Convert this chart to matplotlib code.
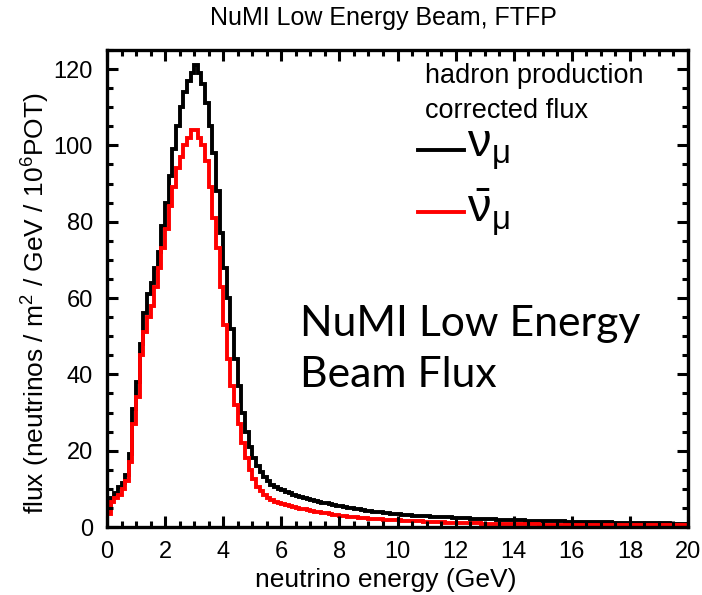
import numpy as np
import matplotlib
matplotlib.use("Agg")
import matplotlib.pyplot as plt
from matplotlib.ticker import MultipleLocator

plt.rcParams['font.family'] = ['Liberation Sans', 'DejaVu Sans']
plt.rcParams['mathtext.default'] = 'regular'

# 0.125 GeV bins, 0-20 GeV (one row = 1 GeV)
edges = np.linspace(0, 20, 161)

numu = [
    5.5, 7.5, 9.0, 10.5, 11.5, 13.5, 19.0, 31.0,
    38, 48, 56, 61, 64, 68, 72, 79,
    85, 92, 99, 105, 110, 114, 117, 119,
    121, 119, 116, 111, 105, 98, 88, 77,
    68, 60, 52, 44, 37, 30, 25, 21,
    18, 16, 14.5, 13, 12, 11, 10.5, 10,
    9.6, 9.2, 8.8, 8.5, 8.2, 7.9, 7.6, 7.3,
    7.0, 6.8, 6.6, 6.4, 6.2, 6.0, 5.8, 5.6,
    5.4, 5.2, 5.05, 4.9, 4.75, 4.6, 4.45, 4.3,
    4.15, 4.0, 3.9, 3.8, 3.7, 3.6, 3.5, 3.4,
    3.3, 3.2, 3.15, 3.1, 3.0, 2.95, 2.9, 2.85,
    2.8, 2.75, 2.7, 2.65, 2.6, 2.55, 2.5, 2.45,
    2.4, 2.35, 2.3, 2.25, 2.2, 2.2, 2.15, 2.1,
    2.05, 2.0, 2.0, 1.95, 1.9, 1.9, 1.85, 1.8,
    1.8, 1.75, 1.75, 1.7, 1.7, 1.65, 1.6, 1.6,
    1.55, 1.55, 1.5, 1.5, 1.45, 1.45, 1.4, 1.4,
    1.4, 1.35, 1.35, 1.3, 1.3, 1.3, 1.25, 1.25,
    1.2, 1.2, 1.2, 1.15, 1.15, 1.15, 1.1, 1.1,
    1.1, 1.05, 1.05, 1.05, 1.0, 1.0, 1.0, 1.0,
    0.95, 0.95, 0.95, 0.9, 0.9, 0.9, 0.9, 0.85,
]

numubar = [
    3.5, 6.5, 7.5, 8.5, 10, 12, 17, 27,
    34, 45, 51, 55, 58, 63, 68, 73,
    78, 84, 89, 94, 97, 100, 102, 104,
    104, 102, 100, 96, 89, 81, 73, 63,
    53, 44, 37, 32, 27, 22, 18, 15,
    12.5, 10.5, 9.5, 8.5, 7.6, 7.0, 6.6, 6.3,
    6.0, 5.7, 5.4, 5.2, 5.0, 4.8, 4.6, 4.4,
    4.2, 4.0, 3.85, 3.7, 3.55, 3.4, 3.25, 3.1,
    3.0, 2.85, 2.75, 2.65, 2.55, 2.45, 2.35, 2.3,
    2.2, 2.15, 2.1, 2.0, 1.95, 1.9, 1.85, 1.8,
    1.75, 1.7, 1.65, 1.6, 1.55, 1.5, 1.45, 1.4,
    1.4, 1.35, 1.3, 1.25, 1.2, 1.15, 1.15, 1.1,
    1.1, 1.05, 1.05, 1.0, 1.0, 0.95, 0.95, 0.9,
    0.9, 0.9, 0.85, 0.85, 0.85, 0.8, 0.8, 0.8,
    0.75, 0.75, 0.75, 0.7, 0.7, 0.7, 0.7, 0.65,
    0.65, 0.65, 0.65, 0.6, 0.6, 0.6, 0.6, 0.6,
    0.55, 0.55, 0.55, 0.55, 0.55, 0.55, 0.55, 0.55,
    0.55, 0.55, 0.5, 0.5, 0.5, 0.5, 0.5, 0.5,
    0.5, 0.5, 0.45, 0.45, 0.45, 0.45, 0.45, 0.45,
    0.45, 0.45, 0.45, 0.4, 0.4, 0.4, 0.4, 0.4,
]

fig = plt.figure(figsize=(7.02, 5.95), dpi=100)
ax = fig.add_axes([107/702, 68/595, 581/702, 477/595])

ax.stairs(numu, edges, color='black', lw=2.8, baseline=0)
ax.stairs(numubar, edges, color='red', lw=2.8, baseline=0)

ax.set_xlim(0, 20)
ax.set_ylim(0, 125)
ax.xaxis.set_major_locator(MultipleLocator(2))
ax.xaxis.set_minor_locator(MultipleLocator(0.5))
ax.yaxis.set_major_locator(MultipleLocator(20))
ax.yaxis.set_minor_locator(MultipleLocator(5))
ax.tick_params(which='both', direction='in', top=True, right=True, labelsize=17, width=2.2)
ax.tick_params(which='major', length=8, pad=10)
ax.tick_params(which='minor', length=4.5)
for s in ax.spines.values():
    s.set_linewidth(2.4)

ax.set_xlabel('neutrino energy (GeV)', fontsize=19)
ax.set_ylabel('flux (neutrinos / m$^2$ / GeV / 10$^6$POT)', fontsize=19)
ax.xaxis.set_label_coords(0.48, -0.085)
ax.yaxis.set_label_coords(-0.094, 0.47)
fig.text(383/702, 1 - 18/595, 'NuMI Low Energy Beam, FTFP', fontsize=18, ha='center', va='center')

# legend
ax.text(0.547, 0.945, 'hadron production', transform=ax.transAxes, fontsize=19.5, va='center')
ax.text(0.547, 0.872, 'corrected flux', transform=ax.transAxes, fontsize=19.5, va='center')
ax.plot([0.535, 0.615], [0.79, 0.79], color='black', lw=2.8, transform=ax.transAxes)
ax.plot([0.535, 0.615], [0.66, 0.66], color='red', lw=2.8, transform=ax.transAxes)
ax.text(0.62, 0.79, r'$\nu_\mu$', transform=ax.transAxes, fontsize=34, va='center', math_fontfamily='stix')
ax.text(0.62, 0.66, r'$\bar{\nu}_\mu$', transform=ax.transAxes, fontsize=34, va='center', math_fontfamily='stix')

# slide annotation
ax.text(0.332, 0.40, 'NuMI Low Energy', transform=ax.transAxes, fontsize=30.8, family=['Lato', 'DejaVu Sans'], va='baseline')
ax.text(0.332, 0.293, 'Beam Flux', transform=ax.transAxes, fontsize=30.8, family=['Lato', 'DejaVu Sans'], va='baseline')

fig.savefig('out.png', dpi=100)
